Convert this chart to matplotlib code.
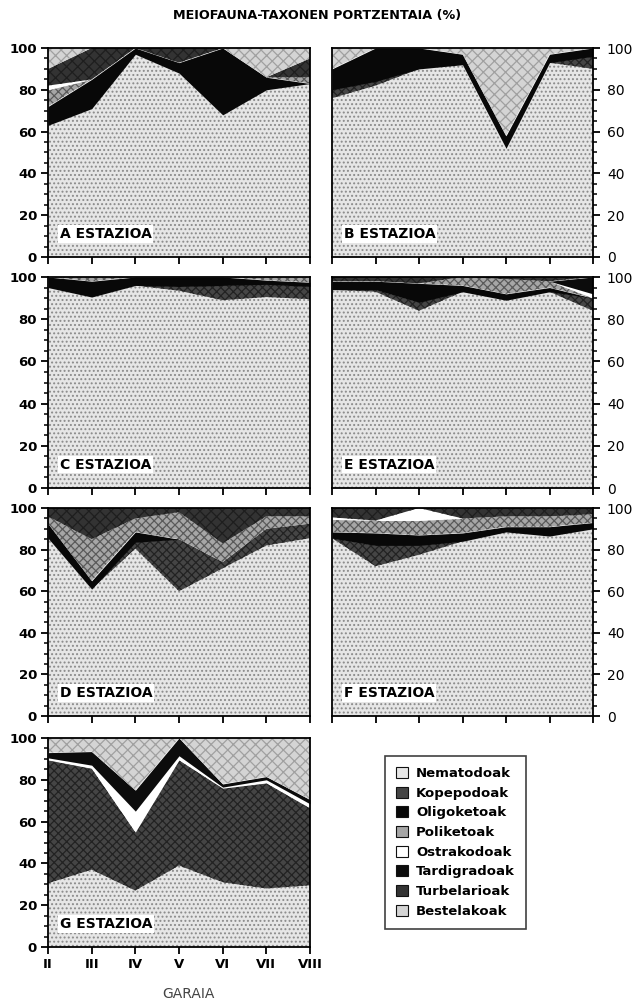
import numpy as np
import matplotlib
matplotlib.use("Agg")
import matplotlib.pyplot as plt
from matplotlib.patches import Patch

plt.rcParams['font.family'] = ['DejaVu Sans']
plt.rcParams['hatch.linewidth'] = 0.9

periods = ["II", "III", "IV", "V", "VI", "VII", "VIII"]
taxa = ["Nematodoak", "Kopepodoak", "Oligoketoak", "Poliketoak",
        "Ostrakodoak", "Tardigradoak", "Turbelarioak", "Bestelakoak"]

# Percentage of each taxon per sampling period, one block per station
# (order follows `taxa`)
station_a = [
    [63, 71, 97, 88, 68, 80, 83],
    [0, 0, 0, 0, 0, 0, 0],
    [9, 14, 3, 5, 32, 6, 0],
    [8, 0, 0, 0, 0, 0, 3],
    [2, 0, 0, 0, 0, 0, 0],
    [0, 0, 0, 0, 0, 0, 0],
    [8, 15, 0, 7, 0, 0, 9],
    [10, 0, 0, 0, 0, 14, 5],
]
station_b = [
    [76, 82, 90, 92, 52, 93, 90],
    [4, 2, 0, 0, 0, 0, 6],
    [10, 16, 10, 5, 6, 4, 4],
    [0, 0, 0, 0, 0, 0, 0],
    [0, 0, 0, 0, 0, 0, 0],
    [0, 0, 0, 0, 0, 0, 0],
    [0, 0, 0, 0, 0, 0, 0],
    [10, 0, 0, 3, 42, 3, 0],
]
station_c = [
    [95, 90.5, 96, 93.5, 89, 90.5, 89.5],
    [0, 0, 0, 2, 7, 6, 6],
    [5, 7.5, 4, 4.5, 4, 2, 2],
    [0, 2, 0, 0, 0, 1.5, 2.5],
    [0, 0, 0, 0, 0, 0, 0],
    [0, 0, 0, 0, 0, 0, 0],
    [0, 0, 0, 0, 0, 0, 0],
    [0, 0, 0, 0, 0, 0, 0],
]
station_e = [
    [94, 93, 84, 93, 89, 93, 84],
    [0, 1, 4, 0, 0, 0, 6],
    [4, 4, 9, 3, 3, 2, 0],
    [0, 0, 0, 4, 7, 3, 0],
    [0, 0, 0, 0, 0, 0, 2],
    [0, 0, 0, 0, 0, 0, 8],
    [2, 2, 3, 0, 1, 2, 0],
    [0, 0, 0, 0, 0, 0, 0],
]
station_d = [
    [85.5, 61, 80.5, 60, 71, 82, 85.5],
    [0, 0, 3, 25, 3, 8, 7],
    [7, 4, 5, 0, 0, 0, 0],
    [3.5, 20, 6.5, 13, 9, 6, 3.5],
    [0, 0, 0, 0, 0, 0, 0],
    [0, 0, 0, 0, 0, 0, 0],
    [4, 15, 5, 2, 17, 4, 4],
    [0, 0, 0, 0, 0, 0, 0],
]
station_f = [
    [85.5, 72, 77.5, 84, 88.5, 86.5, 90],
    [0, 10, 4.5, 0, 0, 0, 0],
    [3, 6, 5, 4, 2.5, 4.5, 3],
    [6, 6, 7, 7, 5, 5, 4],
    [1, 0, 6, 0, 0, 0, 0],
    [0, 0, 0, 0, 0, 0, 0],
    [4.5, 6, 0, 5, 4, 4, 3],
    [0, 0, 0, 0, 0, 0, 0],
]
station_g = [
    [30.5, 37, 27, 39, 31, 28, 29.5],
    [59, 48.5, 28, 50.5, 45, 50.5, 37],
    [0, 0, 0, 0, 0, 0, 0],
    [0, 0, 0, 0, 0, 0, 0],
    [1, 1.5, 10, 2, 0.5, 1.5, 2],
    [2.5, 6.5, 10, 8.5, 1.5, 1.5, 2],
    [0, 0, 0, 0, 0, 0, 0],
    [7, 6.5, 25, 0, 22, 18.5, 29.5],
]
station_names = ["A ESTAZIOA", "B ESTAZIOA", "C ESTAZIOA", "E ESTAZIOA",
                 "D ESTAZIOA", "F ESTAZIOA", "G ESTAZIOA"]

# Fill style per taxon: face colour, hatch pattern, hatch colour
styles = [
    ("#e6e6e6", "....", "#8a8a8a"),
    ("#454545", "xxxx", "#222222"),
    ("#080808", None, "#080808"),
    ("#a6a6a6", "xxxx", "#5a5a5a"),
    ("#ffffff", None, "#ffffff"),
    ("#0c0c0c", None, "#0c0c0c"),
    ("#333333", "xxx", "#1e1e1e"),
    ("#d4d4d4", "xxx", "#a0a0a0"),
]

W, H = 635, 1005
fig = plt.figure(figsize=(W / 100, H / 100), dpi=100)

cols = [(48, 310), (332, 593)]
rows = [(48, 257), (277, 488), (508, 716), (738, 947)]


def add_axes(col, row):
    x0, x1 = cols[col]
    y0, y1 = rows[row]
    return fig.add_axes([x0 / W, 1 - y1 / H, (x1 - x0) / W, (y1 - y0) / H])


def draw_station(ax, data, name, right=False, xlabels=False):
    x = np.arange(len(periods))
    vals = np.array(data, dtype=float)
    tops = np.cumsum(vals, axis=0)
    base = np.zeros(len(periods))
    for i, (fc, hatch, hc) in enumerate(styles):
        ax.fill_between(x, base, tops[i], facecolor=fc, edgecolor=hc,
                        hatch=hatch, linewidth=0)
        base = tops[i]
    ax.set_xlim(0, len(periods) - 1)
    ax.set_ylim(0, 100)
    ax.set_yticks(np.arange(0, 101, 20))
    ax.set_yticks(np.arange(0, 101, 5), minor=True)
    ax.set_xticks(x)
    if xlabels:
        ax.set_xticklabels(periods, fontsize=9.5, fontweight="bold")
    else:
        ax.set_xticklabels([])
    for lab in ax.get_yticklabels():
        lab.set_fontweight("bold")
        lab.set_fontsize(9.5)
    ax.tick_params(axis="both", which="major", direction="out", length=5,
                   width=1.3, pad=3)
    ax.tick_params(axis="y", which="minor", direction="out", length=3,
                   width=1.1)
    if right:
        ax.yaxis.tick_right()
        ax.yaxis.set_label_position("right")
        ax.tick_params(axis="y", which="both", right=True, left=False)
        ax.tick_params(axis="y", which="major", pad=5)
    for sp in ax.spines.values():
        sp.set_linewidth(1.3)
        sp.set_zorder(5)
    ax.text(0.045, 0.11, name, transform=ax.transAxes, ha="left",
            va="center", fontsize=10, fontweight="bold", zorder=6,
            bbox=dict(boxstyle="square,pad=0.12", facecolor="white",
                      edgecolor="none"))


panels = [
    (0, 0, station_a, station_names[0]),
    (1, 0, station_b, station_names[1]),
    (0, 1, station_c, station_names[2]),
    (1, 1, station_e, station_names[3]),
    (0, 2, station_d, station_names[4]),
    (1, 2, station_f, station_names[5]),
    (0, 3, station_g, station_names[6]),
]
for col, row, data, name in panels:
    ax = add_axes(col, row)
    draw_station(ax, data, name, right=(col == 1), xlabels=(row == 3))

fig.text(317 / W, 1 - 15 / H, "MEIOFAUNA-TAXONEN PORTZENTAIA (%)",
         ha="center", va="center", fontsize=9.2, fontweight="bold")
fig.text(188 / W, 1 - 994 / H, "GARAIA", ha="center", va="center",
         fontsize=10, color="#444444")

handles = [Patch(facecolor=fc, edgecolor="#111111", linewidth=0.8)
           for fc, _, _ in styles]
leg = fig.legend(handles, taxa, loc="upper left",
                 bbox_to_anchor=(385 / W, 1 - 756 / H),
                 prop=dict(weight="bold", size=9.5),
                 handlelength=0.9, handleheight=0.9, handletextpad=0.6,
                 labelspacing=0.5, borderpad=0.85, borderaxespad=0,
                 fancybox=False, frameon=True)
leg.get_frame().set_edgecolor("#111111")
leg.get_frame().set_linewidth(1.2)

fig.savefig("out.png", dpi=100, facecolor="white")
